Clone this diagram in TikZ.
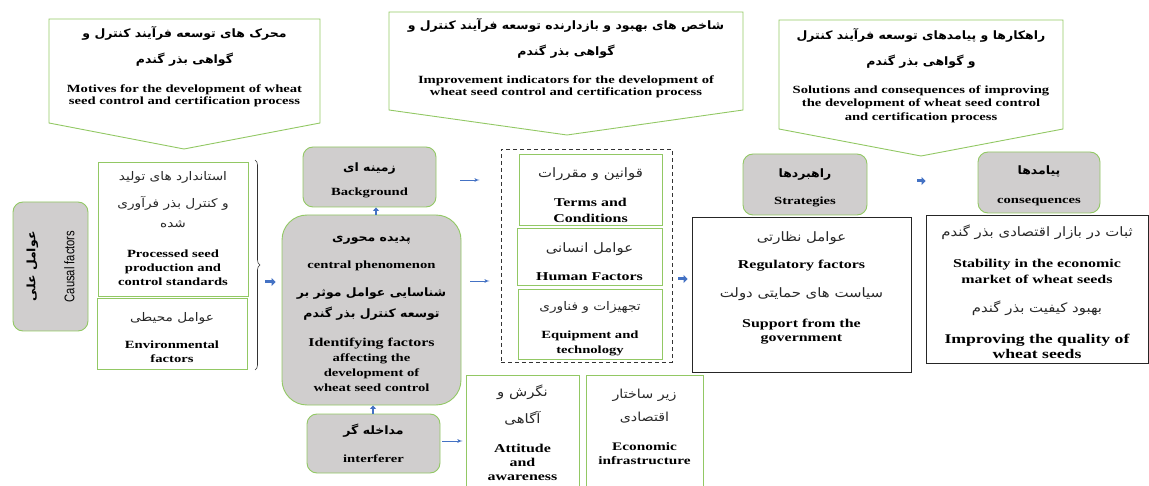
\documentclass[tikz,border=0pt]{standalone}
\usepackage{fontspec}
\setmainfont{Liberation Serif}[FakeStretch=1.33]
\newfontfamily\fafont{DejaVu Sans}[Script=Arabic,Scale=1.08,FakeStretch=1.15]
\newfontfamily\fabfont{DejaVu Sans}[Script=Arabic,Scale=1.05,FakeStretch=1.08]
\newfontfamily\narrowsans{Liberation Sans}[FakeStretch=0.8]
\TeXXeTstate=1
\usetikzlibrary{arrows,arrows.meta,decorations.pathreplacing}
\definecolor{leaf}{RGB}{146,200,100}
\definecolor{shade}{RGB}{208,206,206}
\definecolor{arrowblue}{RGB}{68,114,196}
\definecolor{inkgrey}{RGB}{40,40,40}
\newcommand{\fab}[1]{{\fabfont\bfseries\beginR#1\endR}}
\newcommand{\far}[1]{{\fafont\mdseries\color{inkgrey}\beginR#1\endR}}
\tikzset{
    greybox/.style={rectangle,rounded corners=10pt,draw=leaf,fill=shade,line width=0.9pt,align=center,inner sep=0pt,font=\fontsize{11}{14}\selectfont\bfseries},
    whitebox/.style={rectangle,draw=leaf,line width=0.9pt,align=center,inner sep=0pt,font=\fontsize{11}{14}\selectfont\bfseries},
    blackbox/.style={rectangle,draw=black!85,line width=0.9pt,align=center,inner sep=0pt,font=\fontsize{12}{14}\selectfont\bfseries},
    callout/.style={draw=leaf,line width=0.9pt},
    note/.style={align=center,inner sep=0pt,font=\fontsize{11}{12}\selectfont\bfseries},
    edge/.style={->,> = latex',draw=arrowblue,line width=0.8pt},
    fat/.style={-{Triangle[length=4pt,width=8pt]},draw=arrowblue,line width=3pt}
}

\begin{document}
\begin{tikzpicture}[x=1pt,y=-1pt]
\useasboundingbox (0,0) rectangle (1149,486);

\draw[callout] (49,19) -- (320,19) -- (320,123) -- (184,149) -- (49,123) -- cycle;
\draw[callout] (389,12) -- (743,12) -- (743,110) -- (567,135) -- (389,110) -- cycle;
\draw[callout] (779,20) -- (1063,20) -- (1063,129) -- (921,156) -- (779,129) -- cycle;
\node[note] (18) at (184.5,66.5) {\fab{محرک های توسعه فرآیند کنترل و}\\[12pt]\fab{گواهی بذر گندم}\\[17pt]Motives for the development of wheat\\seed control and certification process};
\node[note] (19) at (566,58) {\fab{شاخص های بهبود و بازدارنده توسعه فرآیند کنترل و}\\[11pt]\fab{گواهی بذر گندم}\\[16pt]Improvement indicators for the development of\\wheat seed control and certification process};
\node[note] (20) at (921,75.5) {\fab{راهکارها و پیامدهای توسعه فرآیند کنترل}\\[11pt]\fab{و گواهی بذر گندم}\\[16pt]Solutions and consequences of improving\\[1.5pt]the development of wheat seed control\\[1.5pt]and certification process};

\node[greybox,rotate=90,minimum width=129pt,minimum height=75pt] (1) at (50.5,266.5) {\fab{عوامل علی}\\[25pt]{\narrowsans\mdseries\fontsize{14}{14}\selectfont Causal factors}};
\node[whitebox,minimum width=150pt,minimum height=134pt] (2) at (173,229) {\far{استاندارد های تولید}\\[12pt]\far{و کنترل بذر فرآوری}\\[6pt]\far{شده}\\[16pt]Processed seed\\production and\\control standards};
\node[whitebox,minimum width=150pt,minimum height=71pt] (3) at (172,333.5) {\strut\\[-6pt]\far{عوامل محیطی}\\[13pt]Environmental\\factors};
\draw[decorate,decoration={brace,amplitude=5pt},line width=0.6pt,black!80] (255,160) -- (255,370);

\node[greybox,minimum width=133pt,minimum height=60pt] (4) at (369.5,177) {\strut\\[-8pt]\fab{زمینه ای}\\[10pt]Background};
\node[greybox,rounded corners=25pt,minimum width=179pt,minimum height=190pt,font=\fontsize{11}{15}\selectfont\bfseries] (5) at (371.5,310) {\strut\\[-12pt]\fab{پدیده محوری}\\[12pt]central phenomenon\\[13pt]\fab{شناسایی عوامل موثر بر}\\[6pt]\fab{توسعه کنترل بذر گندم}\\[14pt]\fontsize{12}{15}\selectfont Identifying factors\\affecting the\\development of\\wheat seed control};
\node[greybox,minimum width=133pt,minimum height=59pt] (6) at (373.5,443.5) {\fab{مداخله گر}\\[14pt]interferer};
\node[whitebox,anchor=north,minimum width=113pt,minimum height=125pt,font=\fontsize{12}{14}\selectfont\bfseries] (7) at (522.5,375) {\far{نگرش و}\\[11pt]\far{آگاهی}\\[15pt]Attitude\\and\\awareness\\[-8pt]\strut};
\node[whitebox,anchor=north,minimum width=117pt,minimum height=125pt,font=\fontsize{11.5}{14}\selectfont\bfseries] (8) at (644.5,375) {\far{زیر ساختار}\\[9pt]\far{اقتصادی}\\[15pt]Economic\\infrastructure\\[5pt]\strut};

\node[rectangle,draw=black!80,dash pattern=on 4pt off 3pt,line width=0.8pt,minimum width=171pt,minimum height=213pt] (9) at (586.5,255.5) {};
\node[whitebox,minimum width=143pt,minimum height=71pt,font=\fontsize{12}{16}\selectfont\bfseries] (10) at (590.5,189.5) {\strut\\[-7pt]\far{قوانین و مقررات}\\[13pt]Terms and\\Conditions};
\node[whitebox,minimum width=145pt,minimum height=57pt,font=\fontsize{12}{16}\selectfont\bfseries] (11) at (589.5,256.5) {\strut\\[-7pt]\far{عوامل انسانی}\\[12pt]Human Factors};
\node[whitebox,minimum width=144pt,minimum height=70pt,font=\fontsize{11}{15}\selectfont\bfseries] (12) at (590,324) {\strut\\[-8pt]\far{تجهیزات و فناوری}\\[13pt]Equipment and\\technology};

\node[greybox,minimum width=124pt,minimum height=61pt] (13) at (805,184.5) {\strut\\[-8pt]\fab{راهبردها}\\[13pt]Strategies};
\node[blackbox,minimum width=219pt,minimum height=155pt] (14) at (801.5,294.5) {\far{عوامل نظارتی}\\[13pt]Regulatory factors\\[15pt]\far{سیاست های حمایتی دولت}\\[16pt]Support from the\\government\\[-3pt]\strut};
\node[greybox,minimum width=122pt,minimum height=61pt] (15) at (1039,182.5) {\strut\\[-8pt]\fab{پیامدها}\\[15pt]consequences};
\node[blackbox,minimum width=222pt,minimum height=148pt,font=\fontsize{12}{16}\selectfont\bfseries] (16) at (1037,289) {\strut\\[-12pt]\far{ثبات در بازار اقتصادی بذر گندم}\\[15pt]Stability in the economic\\market of wheat seeds\\[13pt]\far{بهبود کیفیت بذر گندم}\\[15pt]{\fontsize{13.3}{16}\selectfont Improving the quality of}\\[-1pt]{\fontsize{13.3}{16}\selectfont wheat seeds}};

\coordinate (17) at (265,282);
\draw[fat,shorten >=6pt] (17) -- (17 -| 5.west);
\draw[fat,line width=2.5pt,-{Triangle[length=3.5pt,width=6pt]}] (5.north -| 376,0) -- (4.south -| 376,0);
\draw[fat,line width=2.5pt,-{Triangle[length=3.5pt,width=6pt]}] (6.north -| 373,0) -- (5.south -| 373,0);
\draw[edge,shorten <=24pt,shorten >=21pt] (4.east |- 0,180) -- (9.west |- 0,180);
\draw[edge,shorten <=9pt,shorten >=11pt] (5.east |- 0,281) -- (9.west |- 0,281);
\draw[edge,shorten <=2pt,shorten >=3pt] (6.east |- 0,441) -- (7.west |- 0,441);
\draw[fat,shorten <=6pt,shorten >=4pt] (9.east |- 0,279) -- (14.west |- 0,279);
\draw[fat,shorten <=50pt,shorten >=52pt] (13.east |- 0,181) -- (15.west |- 0,181);

\end{tikzpicture}
\end{document}
